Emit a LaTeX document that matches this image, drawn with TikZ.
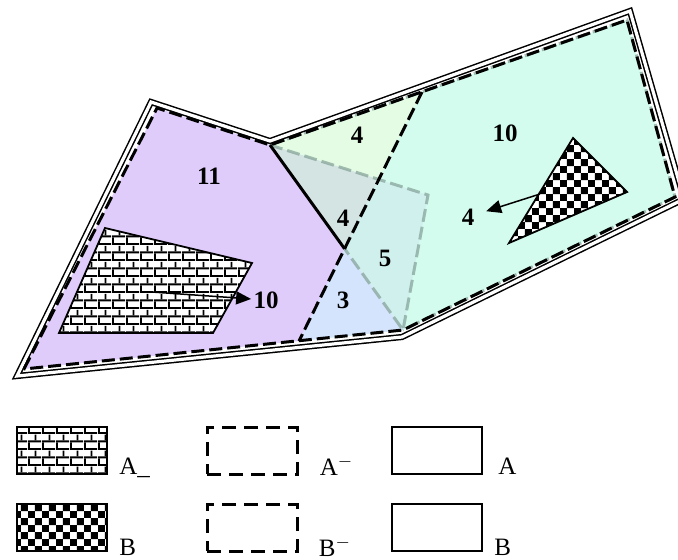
\documentclass[tikz,border=0pt]{standalone}
\usepackage{fontspec}
\setmainfont{Liberation Serif}
\usetikzlibrary{arrows.meta,patterns,patterns.meta,calc}
\definecolor{regP}{RGB}{224,204,250}
\definecolor{regG}{RGB}{228,252,228}
\definecolor{regGG}{RGB}{212,228,226}
\definecolor{regC}{RGB}{208,240,238}
\definecolor{regL}{RGB}{212,228,252}
\definecolor{regM}{RGB}{212,252,238}
\definecolor{grayD}{RGB}{130,160,150}

\tikzdeclarepattern{
  name=brickwall, type=uncolored,
  bounding box={(0pt,0pt) and (7pt,7.8pt)},
  tile size={(7pt,7.8pt)},
  code={
    \fill (0pt,0pt) rectangle (7pt,1pt);
    \fill (0pt,3.9pt) rectangle (7pt,4.9pt);
    \fill (0pt,1pt) rectangle (1pt,3.9pt);
    \fill (3.5pt,4.9pt) rectangle (4.5pt,7.8pt);
  }
}
\tikzdeclarepattern{
  name=checks, type=uncolored,
  bounding box={(0pt,0pt) and (7.2pt,7.2pt)},
  tile size={(7.2pt,7.2pt)},
  code={
    \fill (0pt,0pt) rectangle (3.6pt,3.6pt);
    \fill (3.6pt,3.6pt) rectangle (7.2pt,7.2pt);
  }
}

\begin{document}
\begin{tikzpicture}[
  x=0.5pt, y=-0.5pt,
  num/.style={font=\fontsize{12.5}{14}\selectfont\bfseries, inner sep=1pt},
  lab/.style={font=\fontsize{12.5}{14}\selectfont, anchor=base west, inner sep=0pt},
  dbl/.style={draw=black, double=white, line width=0.75pt, double distance=1.6pt},
  dsh/.style={draw=black, line width=1.5pt, dash pattern=on 6.5pt off 2.5pt},
  gdsh/.style={draw=grayD, line width=1.5pt, dash pattern=on 6.5pt off 2.5pt, draw opacity=0.7},
  aline/.style={draw=black, line width=1.5pt},
  ptr/.style={-{Triangle[length=7.5pt,width=6.5pt]}, line width=0.75pt},
  brk/.style={draw=black, line width=0.9pt, fill=white, postaction={pattern=brickwall, pattern color=black}},
  chk/.style={draw=black, line width=0.9pt, fill=white, postaction={pattern=checks, pattern color=black}},
  lgbox/.style={minimum width=45pt, minimum height=23.5pt, inner sep=0pt},
  lgdsh/.style={lgbox, draw=black, line width=1.5pt, dash pattern=on 7pt off 4pt},
  lgsol/.style={lgbox, draw=black, line width=0.9pt},
]
\useasboundingbox (0,0) rectangle (678,559);

% ============ corner points ============
% outer (solid) boundary
\coordinate (O1) at (17,376);
\coordinate (O2) at (151,102);
\coordinate (O3) at (270,141);
\coordinate (O4) at (630,11);
\coordinate (O5) at (684,199);
\coordinate (O6) at (402,337);
% dashed boundary
\coordinate (D1) at (24,369);
\coordinate (D2) at (157,108);
\coordinate (D3) at (270,145);
\coordinate (D4) at (627,20);
\coordinate (D5) at (675,197);
\coordinate (D6) at (403,330);
% split line and triangle
\coordinate (Yt) at (422,92);
\coordinate (Yb) at (299,341);
\coordinate (G2) at (428,195);
\coordinate (X1) at (intersection of D3--D6 and Yt--Yb);
\coordinate (X2) at (intersection of D3--G2 and Yt--Yb);

% ============ regions ============
\fill[regM] (D3) -- (Yt) -- (D4) -- (D5) -- (D6) -- (Yb) -- cycle;
\fill[regP] (D1) -- (D2) -- (D3) -- (X1) -- (Yb) -- cycle;
\fill[regG] (D3) -- (Yt) -- (X2) -- cycle;
\fill[regGG] (D3) -- (X2) -- (X1) -- cycle;
\fill[regC] (X2) -- (G2) -- (D6) -- (X1) -- cycle;
\fill[regL] (X1) -- (D6) -- (Yb) -- cycle;

% ============ boundaries ============
\draw[gdsh] (D3) -- (D4) -- (D5) -- (D6);
\draw[gdsh] (D3) -- (G2) -- (D6) -- (X1);
\draw[dbl] (O1) -- (O2) -- (O3) -- (O4) -- (O5) -- (O6) -- cycle;
\draw[dsh] (D1) -- (D2) -- (D3) -- (D4) -- (D5) -- (D6) -- cycle;
\draw[dsh] (Yt) -- (Yb);
\draw[aline] (D3) -- (X1);

% ============ inner shapes ============
\draw[brk] (105,228) -- (252,263) -- (213,333) -- (59,333) -- cycle;
\draw[chk] (573,138) -- (627,192) -- (509,243) -- cycle;
\coordinate (brkIn) at (152,292);
\coordinate (chkIn) at (540,194);

% ============ numbers ============
\node[num] (n11)  at (209,176) {11};
\node[num] (n4a)  at (357,135) {4};
\node[num] (n10a) at (505,133) {10};
\node[num] (n4b)  at (343,218) {4};
\node[num] (n5)   at (385,258) {5};
\node[num] (n3)   at (343,300) {3};
\node[num] (n4c)  at (468,217) {4};
\node[num] (n10b) at (266,300) {10};
\draw[ptr] (brkIn) -- (n10b);
\draw[ptr, shorten >=5pt] (chkIn) -- (n4c);

% ============ legend ============
\node[lgbox, brk]  (lgA1) at (62,450.5) {};
\node[lgdsh]       (lgA2) at (252,450.5) {};
\node[lgsol]       (lgA3) at (437,450.5) {};
\node[lgbox, chk]  (lgB1) at (62,527.5) {};
\node[lgdsh]       (lgB2) at (252,527.5) {};
\node[lgsol]       (lgB3) at (437,527.5) {};
\node[lab] (tA1) at ($(lgA1.south east)+(11,0)$) {A\_};
\node[lab] (tA2) at ($(lgA2.south east)+(21,0)$) {A$^{-}$};
\node[lab] (tA3) at ($(lgA3.south east)+(15,0)$) {A};
\node[lab] (tB1) at ($(lgB1.south east)+(11,4)$) {B};
\node[lab] (tB2) at ($(lgB2.south east)+(20,4)$) {B$^{-}$};
\node[lab] (tB3) at ($(lgB3.south east)+(11,4)$) {B};

\end{tikzpicture}
\end{document}
